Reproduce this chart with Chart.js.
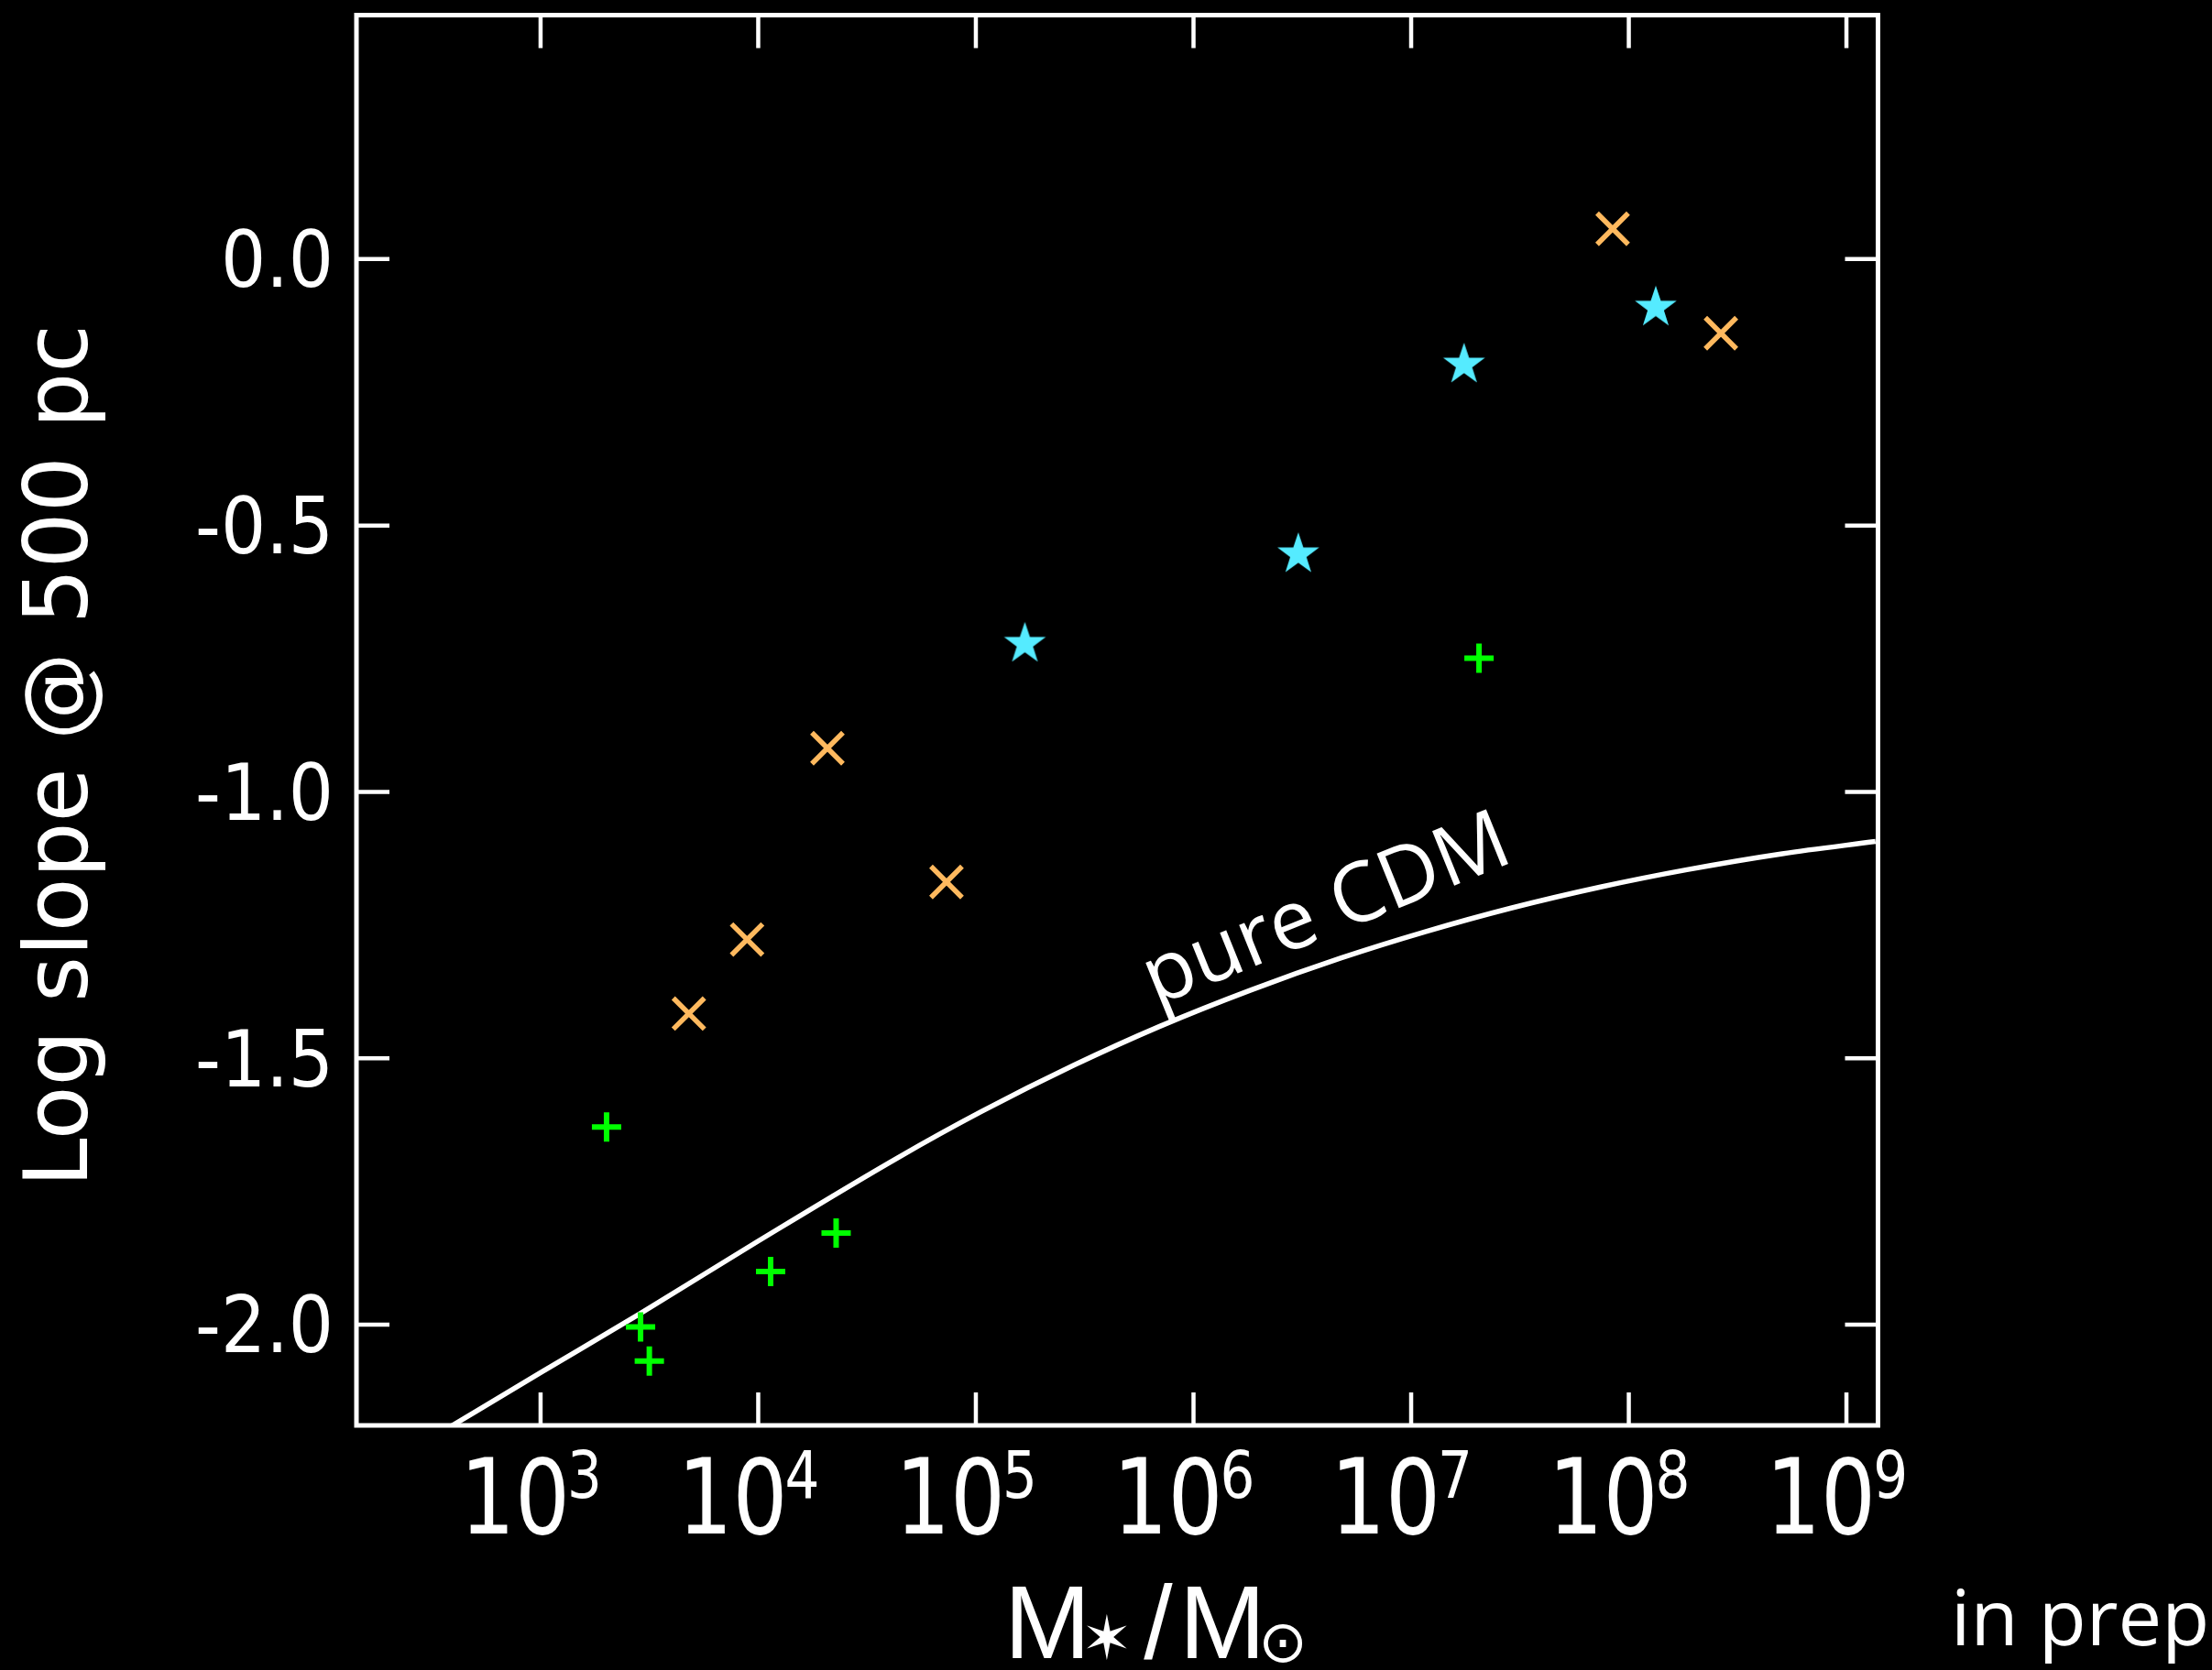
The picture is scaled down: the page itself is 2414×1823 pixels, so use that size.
<!DOCTYPE html>
<html>
<head>
<meta charset="utf-8">
<title>Log slope @ 500 pc</title>
<script src="https://cdn.jsdelivr.net/npm/chart.js@4.4.1/dist/chart.umd.min.js"></script>
<style>
  html, body { margin: 0; padding: 0; background: #000; }
  canvas { display: block; }
</style>
</head>
<body>
<canvas id="slopeChart" width="2414" height="1823"></canvas>
<script>
// orange crosses: stellar mass (Msun) and log slope at 500 pc
const crossMass  = [8.43e7, 2.65e8, 2.08e4, 7.33e4, 8.89e3, 4.80e3];
const crossSlope = [0.057, -0.139, -0.918, -1.169, -1.277, -1.416];

// cyan stars
const starMass  = [1.33e8, 1.75e7, 3.03e6, 1.68e5];
const starSlope = [-0.091, -0.198, -0.554, -0.722];

// green plus signs
const plusMass  = [2.05e7, 2.01e3, 2.28e4, 1.14e4, 2.88e3, 3.16e3];
const plusSlope = [-0.749, -1.629, -1.828, -1.900, -2.004, -2.068];

// pure CDM curve
const cdmMass  = [355, 1.0e3, 2.87e3, 1.0e4, 4.36e4, 1.06e5, 2.82e5, 7.0e5, 1.83e6, 4.74e6, 1.17e7, 2.88e7, 7.5e7, 1.85e8, 5.07e8, 1.36e9];
const cdmSlope = [-2.20, -2.09, -1.979, -1.843, -1.687, -1.600, -1.513, -1.440, -1.372, -1.312, -1.262, -1.218, -1.178, -1.146, -1.116, -1.093];

// axis ticks
const massExponents = [3, 4, 5, 6, 7, 8, 9];
const slopeTicks    = [-2.0, -1.5, -1.0, -0.5, 0.0];

const toPoints = (xs, ys) => xs.map((x, i) => ({ x: x, y: ys[i] }));

// filled five-pointed star used as a point style
function makeStar(radius, color) {
    const size = Math.ceil(radius * 2) + 4;
    const c = document.createElement('canvas');
    c.width = c.height = size;
    const g = c.getContext('2d');
    const inner = radius * 0.39;
    g.beginPath();
    for (let i = 0; i < 10; i++) {
        const r = i % 2 ? inner : radius;
        const a = -Math.PI / 2 + i * Math.PI / 5;
        g.lineTo(size / 2 + r * Math.cos(a), size / 2 + r * Math.sin(a));
    }
    g.closePath();
    g.fillStyle = color;
    g.fill();
    return c;
}

const TICK_LEN = 36;
const tickFont = '"DejaVu Sans Condensed", sans-serif';
const LABEL_SQUEEZE = 0.92;   // narrows the decade labels a little

// frame with inward ticks, x tick labels, titles and annotations
const decorations = {
    id: 'decorations',
    afterDraw(chart) {
        const { ctx, chartArea: a, scales: { x, y } } = chart;
        ctx.save();

        // box and ticks
        ctx.strokeStyle = '#fff';
        ctx.lineWidth = 5;
        ctx.strokeRect(a.left, a.top, a.right - a.left, a.bottom - a.top);
        ctx.lineWidth = 4.5;
        ctx.beginPath();
        massExponents.forEach(e => {
            const px = x.getPixelForValue(Math.pow(10, e));
            ctx.moveTo(px, a.bottom); ctx.lineTo(px, a.bottom - TICK_LEN);
            ctx.moveTo(px, a.top);    ctx.lineTo(px, a.top + TICK_LEN);
        });
        slopeTicks.forEach(v => {
            const py = y.getPixelForValue(v);
            ctx.moveTo(a.left, py);  ctx.lineTo(a.left + TICK_LEN, py);
            ctx.moveTo(a.right, py); ctx.lineTo(a.right - TICK_LEN, py);
        });
        ctx.stroke();

        // x tick labels: 10 with a raised exponent
        ctx.fillStyle = '#fff';
        ctx.textBaseline = 'alphabetic';
        ctx.textAlign = 'left';
        massExponents.forEach(e => {
            const px = x.getPixelForValue(Math.pow(10, e));
            ctx.font = '114px ' + tickFont;
            const wBase = ctx.measureText('10').width * LABEL_SQUEEZE;
            ctx.font = '72px ' + tickFont;
            const wExp = ctx.measureText(String(e)).width * LABEL_SQUEEZE;
            const start = px - (wBase + wExp) / 2 - 9;
            ctx.save();
            ctx.translate(start, 0);
            ctx.scale(LABEL_SQUEEZE, 1);
            ctx.font = '114px ' + tickFont;
            ctx.fillText('10', 0, a.bottom + 118);
            ctx.font = '72px ' + tickFont;
            ctx.fillText(String(e), (wBase - 3) / LABEL_SQUEEZE, a.bottom + 79);
            ctx.restore();
        });

        // y title
        ctx.save();
        ctx.translate(70, 825);
        ctx.rotate(-Math.PI / 2);
        ctx.font = '96px "DejaVu Sans", sans-serif';
        ctx.textAlign = 'center';
        ctx.textBaseline = 'middle';
        ctx.fillText('Log slope @ 500 pc', 0, 0);
        ctx.restore();

        // x title: M* / Msun
        const tx = 1262, base = 1810;
        ctx.textAlign = 'center';
        ctx.textBaseline = 'alphabetic';
        ctx.font = '113px "Liberation Sans", sans-serif';
        ctx.fillText('M', tx - 119, base);
        ctx.fillText('/', tx + 2, base);
        ctx.fillText('M', tx + 72, base);
        ctx.textBaseline = 'middle';
        ctx.font = '66px "DejaVu Sans", sans-serif';
        ctx.fillText('\u2736', tx - 54, base - 16);
        ctx.font = '64px "DejaVu Sans", sans-serif';
        ctx.fillText('\u2299', tx + 138, base - 13);

        // curve label
        ctx.save();
        ctx.translate(x.getPixelForValue(4.1e6), y.getPixelForValue(-1.225));
        ctx.rotate(-22 * Math.PI / 180);
        ctx.font = '90px "Open Sans", sans-serif';
        ctx.textAlign = 'center';
        ctx.textBaseline = 'middle';
        ctx.fillText('pure CDM', 0, 0);
        ctx.restore();

        // corner note
        ctx.font = '85px "Open Sans", sans-serif';
        ctx.textAlign = 'left';
        ctx.textBaseline = 'alphabetic';
        ctx.fillText('in prep', 2129, 1796);

        ctx.restore();
    }
};

const ctx = document.getElementById('slopeChart').getContext('2d');
new Chart(ctx, {
    type: 'scatter',
    data: {
        datasets: [
            {
                label: 'plus',
                data: toPoints(plusMass, plusSlope),
                pointStyle: 'cross',
                pointRadius: 16,
                borderWidth: 6,
                borderColor: '#00ff00'
            },
            {
                label: 'stars',
                data: toPoints(starMass, starSlope),
                pointStyle: makeStar(24, '#55ebff'),
                pointRadius: 24,
                borderWidth: 0
            },
            {
                label: 'crosses',
                data: toPoints(crossMass, crossSlope),
                pointStyle: 'crossRot',
                pointRadius: 24,
                borderWidth: 5.5,
                borderColor: '#ffb95e'
            },
            {
                label: 'pure CDM',
                data: toPoints(cdmMass, cdmSlope),
                showLine: true,
                pointRadius: 0,
                borderColor: '#ffffff',
                borderWidth: 5.5,
                cubicInterpolationMode: 'monotone'
            }
        ]
    },
    options: {
        responsive: false,
        devicePixelRatio: 1,
        animation: false,
        events: [],
        layout: {
            autoPadding: false,
            padding: { left: 0, top: 16.5, right: 364.5, bottom: 267 }
        },
        plugins: {
            legend: { display: false },
            tooltip: { enabled: false }
        },
        scales: {
            x: {
                type: 'logarithmic',
                display: false,
                min: Math.pow(10, 2.154),
                max: Math.pow(10, 9.145)
            },
            y: {
                type: 'linear',
                min: -2.189,
                max: 0.458,
                grid: { display: false, drawTicks: false },
                border: { display: false },
                afterBuildTicks: function(scale) {
                    scale.ticks = slopeTicks.map(v => ({ value: v }));
                },
                afterFit: function(scale) {
                    scale.width = 389;
                    scale.paddingTop = 0;
                    scale.paddingBottom = 0;
                },
                ticks: {
                    color: '#ffffff',
                    padding: 25,
                    labelOffset: 8,
                    autoSkip: false,
                    font: { family: '"DejaVu Sans Condensed", sans-serif', size: 86 },
                    callback: function(value) {
                        return Number(value).toFixed(1);
                    }
                }
            }
        }
    },
    plugins: [decorations]
});
</script>
</body>
</html>
